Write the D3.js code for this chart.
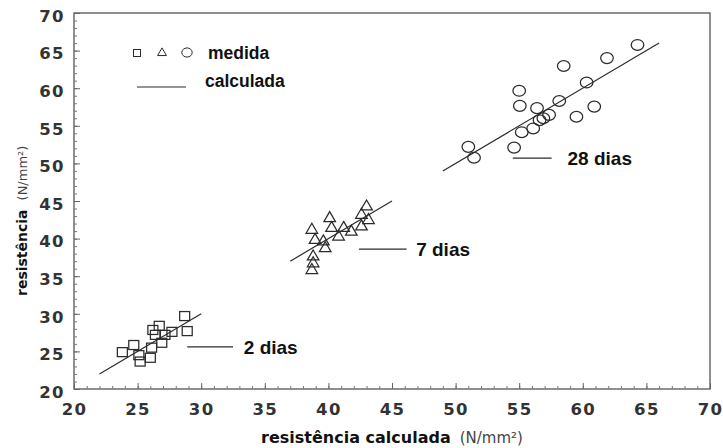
<!DOCTYPE html>
<html>
<head>
<meta charset="utf-8">
<script src="https://cdn.jsdelivr.net/npm/d3@7"></script>
<style>
  html, body { margin: 0; padding: 0; background: #fff; }
  svg { display: block; }
</style>
</head>
<body>
<svg id="chart" width="723" height="448"></svg>
<script>
// Measured strength vs. calculated strength (N/mm²) at 2, 7 and 28 days.
const days2Calc = [23.8, 24.7, 25.1, 25.2, 26.0, 26.1, 26.9, 26.2, 26.7, 26.4, 27.15, 27.7, 28.9, 28.7];
const days2Meas = [24.9, 25.85, 24.5, 23.65, 24.15, 25.5, 26.15, 27.85, 28.4, 27.2, 27.2, 27.6, 27.7, 29.7];

const days7Calc = [43.0, 42.6, 43.15, 42.6, 40.1, 40.25, 41.2, 41.8, 40.8, 38.7, 38.95, 39.6, 39.75, 38.8, 38.8, 38.7];
const days7Meas = [44.25, 43.15, 42.45, 41.6, 42.7, 41.4, 41.4, 40.9, 40.25, 41.15, 39.8, 39.6, 38.7, 37.6, 36.7, 35.8];

const days28Calc = [64.3, 61.9, 58.5, 60.3, 55.0, 55.05, 58.15, 60.9, 56.4, 57.35, 56.9, 56.6, 59.5, 56.1, 55.2, 51.0, 51.45, 54.6];
const days28Meas = [65.75, 64.0, 62.95, 60.75, 59.65, 57.65, 58.3, 57.55, 57.35, 56.45, 56.0, 55.75, 56.2, 54.65, 54.15, 52.2, 50.75, 52.1];

// Calculated strength lines (measured = calculated), one segment per age.
const lineFrom = [22, 37, 49];
const lineTo   = [30, 45, 66];

// Age labels: leader line start/end and height, label start (data units).
const ageLabels  = ["2 dias", "7 dias", "28 dias"];
const ageLeadX0  = [28.9, 42.4, 54.5];
const ageLeadX1  = [32.5, 46.15, 57.55];
const ageLeadY   = [25.6, 38.6, 50.7];
const ageTextX   = [33.35, 46.9, 58.8];

const xTicks = [20, 25, 30, 35, 40, 45, 50, 55, 60, 65, 70];
const yTicks = [20, 25, 30, 35, 40, 45, 50, 55, 60, 65, 70];
const minorTicks = d3.range(20, 71, 1);

const svg = d3.select("#chart");
const x = d3.scaleLinear().domain([20, 70]).range([74, 710]);
const y = d3.scaleLinear().domain([20, 70]).range([389, 13]);

const ink = "#2b2b2b";
const axisInk = "#555";

// plot frame
svg.append("rect")
  .attr("x", x(20)).attr("y", y(70))
  .attr("width", x(70) - x(20)).attr("height", y(20) - y(70))
  .attr("fill", "none").attr("stroke", axisInk).attr("stroke-width", 1.3);

// inward minor and major ticks
function styleTicks(g) {
  g.select(".domain").remove();
  g.selectAll(".tick line").attr("stroke", "#777").attr("stroke-width", 1);
}
svg.append("g").attr("transform", `translate(0,${y(20)})`)
  .call(d3.axisBottom(x).tickValues(minorTicks).tickSize(-3).tickFormat(""))
  .call(styleTicks);
svg.append("g").attr("transform", `translate(${x(20)},0)`)
  .call(d3.axisLeft(y).tickValues(minorTicks).tickSize(-3).tickFormat(""))
  .call(styleTicks);

const xAxis = svg.append("g").attr("transform", `translate(0,${y(20)})`)
  .call(d3.axisBottom(x).tickValues(xTicks).tickSize(-6).tickPadding(14).tickFormat(d3.format("d")));
xAxis.select(".domain").remove();
xAxis.selectAll(".tick line").attr("stroke", "#666");
xAxis.selectAll(".tick text")
  .attr("font-family", "DejaVu Sans").attr("font-weight", "bold")
  .attr("font-size", 16.5).attr("letter-spacing", 1.4).attr("fill", "#333");

const yAxis = svg.append("g").attr("transform", `translate(${x(20)},0)`)
  .call(d3.axisLeft(y).tickValues(yTicks).tickSize(-6).tickPadding(9).tickFormat(d3.format("d")));
yAxis.select(".domain").remove();
yAxis.selectAll(".tick line").attr("stroke", "#666");
yAxis.selectAll(".tick text")
  .attr("font-family", "DejaVu Sans").attr("font-weight", "bold")
  .attr("font-size", 16.5).attr("letter-spacing", 1.4).attr("fill", "#333")
  .attr("dy", "0.5em");

// calculated lines
svg.append("g").selectAll("line")
  .data(d3.zip(lineFrom, lineTo))
  .join("line")
  .attr("x1", d => x(d[0])).attr("y1", d => y(d[0]))
  .attr("x2", d => x(d[1])).attr("y2", d => y(d[1]))
  .attr("stroke", ink).attr("stroke-width", 1.2);

// measured points
const markStyle = sel => sel.attr("fill", "none").attr("stroke", ink).attr("stroke-width", 1.25);

svg.append("g").selectAll("rect")
  .data(d3.zip(days2Calc, days2Meas))
  .join("rect")
  .attr("x", d => x(d[0]) - 5).attr("y", d => y(d[1]) - 4.5)
  .attr("width", 10).attr("height", 9)
  .call(markStyle);

const tri = d3.symbol().type(d3.symbolTriangle).size(58);
svg.append("g").selectAll("path")
  .data(d3.zip(days7Calc, days7Meas))
  .join("path")
  .attr("d", tri)
  .attr("transform", d => `translate(${x(d[0])},${y(d[1])})`)
  .call(markStyle);

svg.append("g").selectAll("ellipse")
  .data(d3.zip(days28Calc, days28Meas))
  .join("ellipse")
  .attr("cx", d => x(d[0])).attr("cy", d => y(d[1]))
  .attr("rx", 6.3).attr("ry", 5.4)
  .call(markStyle);

// age labels
const ages = svg.append("g");
ageLabels.forEach((lbl, i) => {
  ages.append("line")
    .attr("x1", x(ageLeadX0[i])).attr("x2", x(ageLeadX1[i]))
    .attr("y1", y(ageLeadY[i])).attr("y2", y(ageLeadY[i]))
    .attr("stroke", ink).attr("stroke-width", 1.2);
  ages.append("text")
    .attr("x", x(ageTextX[i])).attr("y", y(ageLeadY[i]))
    .attr("dy", "0.36em")
    .attr("font-family", "Liberation Sans").attr("font-weight", "bold")
    .attr("font-size", 19).attr("fill", "#111")
    .text(lbl);
});

// legend
const legend = svg.append("g");
legend.append("rect").attr("x", 133.5).attr("y", 49.5).attr("width", 7).attr("height", 7).call(markStyle).attr("stroke-width", 1);
legend.append("path").attr("d", d3.symbol().type(d3.symbolTriangle).size(34))
  .attr("transform", "translate(162,53)").call(markStyle).attr("stroke-width", 1);
legend.append("ellipse").attr("cx", 187).attr("cy", 52.5).attr("rx", 5.2).attr("ry", 4.6).call(markStyle).attr("stroke-width", 1);
legend.append("text").attr("x", 208).attr("y", 59)
  .attr("font-family", "Liberation Sans").attr("font-weight", "bold")
  .attr("font-size", 17.5).attr("fill", "#111").text("medida");
legend.append("line").attr("x1", 137).attr("x2", 186).attr("y1", 87).attr("y2", 87)
  .attr("stroke", ink).attr("stroke-width", 1.2);
legend.append("text").attr("x", 205).attr("y", 87)
  .attr("font-family", "Liberation Sans").attr("font-weight", "bold")
  .attr("font-size", 17.5).attr("fill", "#111").text("calculada");

// axis titles
const xTitle = svg.append("text").attr("x", 261).attr("y", 443)
  .attr("font-family", "DejaVu Sans").attr("fill", "#111");
xTitle.append("tspan").attr("font-weight", "bold").attr("font-size", 16).text("resistência calculada");
xTitle.append("tspan").attr("dx", 9).attr("font-size", 15).attr("fill", "#444").text("(N/mm²)");

const yTitle = svg.append("text")
  .attr("transform", "translate(27,296) rotate(-90)")
  .attr("font-family", "DejaVu Sans").attr("fill", "#111");
yTitle.append("tspan").attr("font-weight", "bold").attr("font-size", 14).text("resistência");
yTitle.append("tspan").attr("dx", 9).attr("font-size", 13).attr("fill", "#444").text("(N/mm²)");
</script>
</body>
</html>
